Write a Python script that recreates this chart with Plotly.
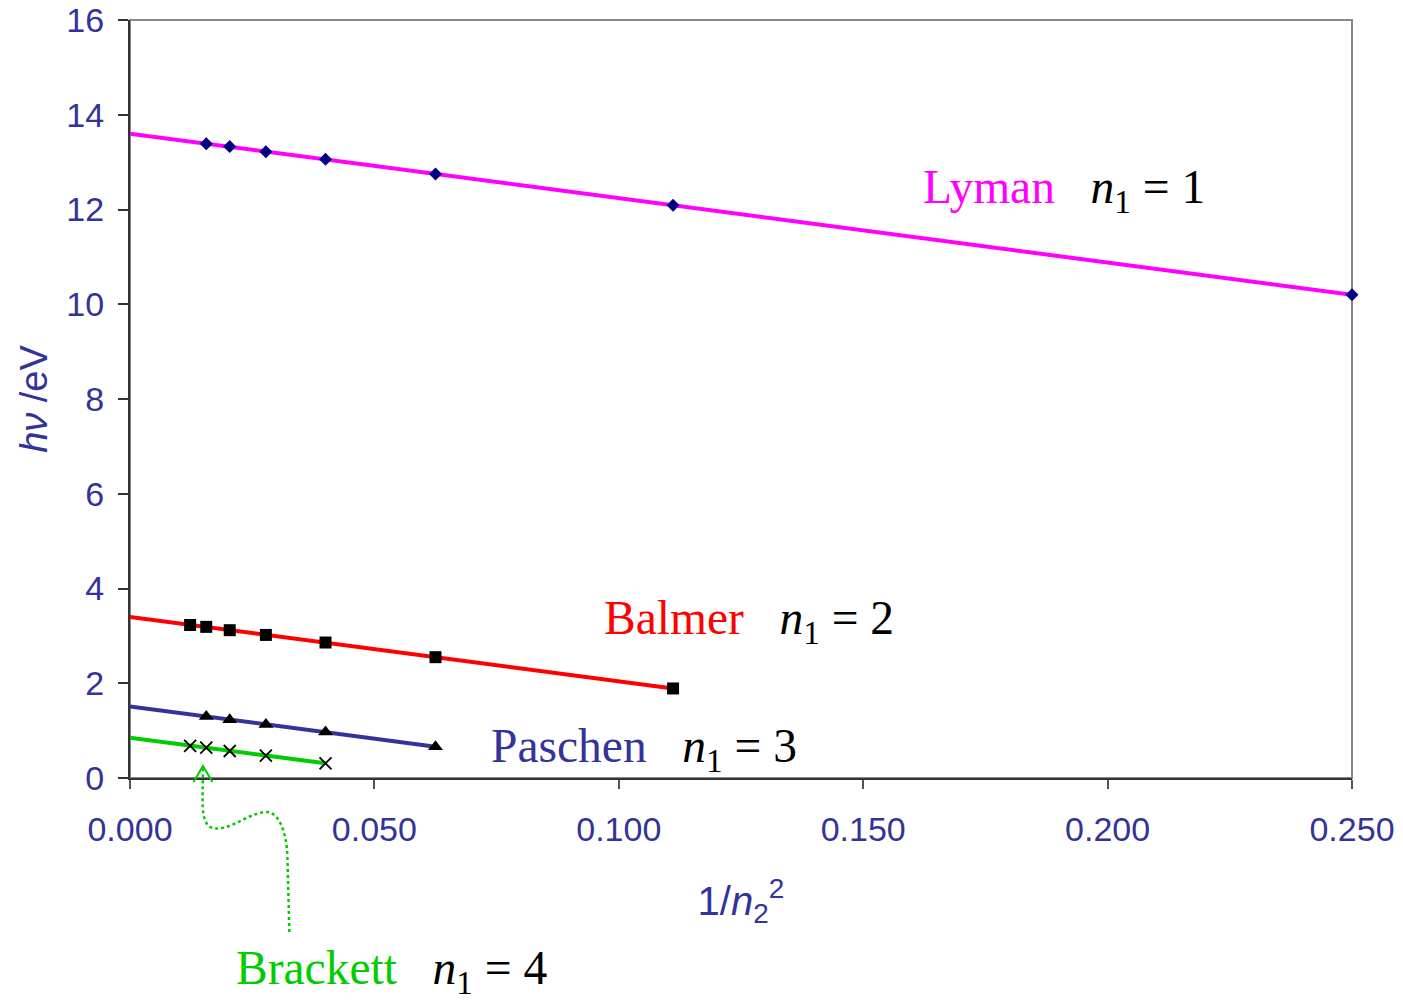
import plotly.graph_objects as go

# ---- data ----
lyman_x = [0.2500, 0.1111, 0.0625, 0.0400, 0.0278, 0.0204, 0.0156]
lyman_y = [10.20, 12.09, 12.75, 13.06, 13.22, 13.33, 13.39]
lyman_line_x = [0.0, 0.25]
lyman_line_y = [13.60, 10.20]

balmer_x = [0.1111, 0.0625, 0.0400, 0.0278, 0.0204, 0.0156, 0.0123]
balmer_y = [1.89, 2.55, 2.86, 3.02, 3.12, 3.19, 3.23]
balmer_line_x = [0.0, 0.1111]
balmer_line_y = [3.40, 1.89]

paschen_x = [0.0625, 0.0400, 0.0278, 0.0204, 0.0156]
paschen_y = [0.66, 0.97, 1.13, 1.23, 1.30]
paschen_line_x = [0.0, 0.0625]
paschen_line_y = [1.51, 0.66]

brackett_x = [0.0400, 0.0278, 0.0204, 0.0156, 0.0123]
brackett_y = [0.31, 0.47, 0.57, 0.64, 0.68]
brackett_line_x = [0.0, 0.0400]
brackett_line_y = [0.85, 0.31]

x_ticks = [0.0, 0.05, 0.10, 0.15, 0.20, 0.25]
y_ticks = [0, 2, 4, 6, 8, 10, 12, 14, 16]

AXIS_BLUE = "#333399"
SERIF = "Liberation Serif, Times New Roman, serif"
SANS = "Liberation Sans, Arial, sans-serif"

# body margin is removed by post_script, so the figure fills the window exactly
W, H = 1403, 1000
ML, MT, MR, MB = 130, 20, 51, 222

fig = go.Figure()

def add_series(lx, ly, color, px, py, symbol, mcolor, msize, mline=None):
    fig.add_trace(go.Scatter(x=lx, y=ly, mode="lines",
                             line=dict(color=color, width=4), showlegend=False,
                             hoverinfo="skip"))
    m = dict(symbol=symbol, color=mcolor, size=msize)
    if mline:
        m["line"] = mline
    fig.add_trace(go.Scatter(x=px, y=py, mode="markers", marker=m,
                             showlegend=False, cliponaxis=False))

add_series(lyman_line_x, lyman_line_y, "#FF00FF", lyman_x, lyman_y,
           "diamond", "#000080", 10)
add_series(balmer_line_x, balmer_line_y, "#FF0000", balmer_x, balmer_y,
           "square", "#000000", 12)
add_series(paschen_line_x, paschen_line_y, "#333399", paschen_x, paschen_y,
           "triangle-up", "#000000", 13)
add_series(brackett_line_x, brackett_line_y, "#00CC00", brackett_x, brackett_y,
           "x-thin", "#000000", 12, dict(color="#000000", width=1.8))

# ---- labels ----
LBL = 47.5
SP = "&nbsp;" * 3

def label(x, y, name, color, n1, yref="y"):
    txt = ('<span style="color:%s">%s</span>%s<i>n</i><sub>1</sub> = %d'
           % (color, name, SP, n1))
    fig.add_annotation(x=x, y=y, xref="x", yref=yref, text=txt, showarrow=False,
                       xanchor="left", yanchor="middle",
                       font=dict(family=SERIF, size=LBL, color="#000000"))

def py2data(py):
    return (778 - py) / 758.0 * 16

label(0.1618, py2data(190), "Lyman", "#FF00FF", 1)
label(0.0966, py2data(621), "Balmer", "#FF0000", 2)
label(0.0734, py2data(749), "Paschen", "#333399", 3)
label(0.0213, (778 - 971) / 758.0, "Brackett", "#00CC00", 4, yref="paper")

# ---- dotted arrow to Brackett points (paper coords) ----
def P(px, py):
    return "%.4f,%.4f" % ((px - 130) / 1222.0, (778 - py) / 758.0)

path = ("M " + P(289.3, 932) + " L " + P(287.5, 860) +
        " C " + P(287, 830) + " " + P(278, 810) + " " + P(264, 812) +
        " C " + P(245, 815) + " " + P(225, 834) + " " + P(210, 827) +
        " C " + P(200, 820) + " " + P(203, 800) + " " + P(203, 768))
fig.add_shape(type="path", path=path, xref="paper", yref="paper",
              line=dict(color="#00CC00", width=2.5, dash="dot"))
head = "M " + P(193.5, 782) + " L " + P(203, 766) + " L " + P(212.5, 782)
fig.add_shape(type="path", path=head, xref="paper", yref="paper",
              line=dict(color="#00CC00", width=2))

# gray frame (top/right)
fig.add_shape(type="rect", x0=0, x1=1, y0=0, y1=1, xref="paper", yref="paper",
              line=dict(color="#888888", width=2), layer="below")

fig.update_layout(
    width=W, height=H,
    margin=dict(l=ML, r=MR, t=MT, b=MB, autoexpand=False),
    plot_bgcolor="white", paper_bgcolor="white",
    showlegend=False,
)
fig.update_xaxes(range=[0, 0.25], tickvals=x_ticks, tickformat=".3f",
                 automargin=False, ticklabeloverflow="allow",
                 showgrid=False, zeroline=False, showline=True,
                 linecolor="#333333", linewidth=2, ticks="outside",
                 ticklen=9, tickcolor="#555555", tickwidth=1.5,
                 ticklabelstandoff=11,
                 tickfont=dict(family=SANS, size=34, color=AXIS_BLUE),
                 title=dict(text="1/<i>n</i><sub>2</sub><sup>2</sup>",
                            font=dict(family=SANS, size=40, color=AXIS_BLUE),
                            standoff=40))
fig.update_yaxes(range=[0, 16], tickvals=y_ticks,
                 automargin=False, ticklabeloverflow="allow",
                 showgrid=False, zeroline=False, showline=True,
                 linecolor="#333333", linewidth=2, ticks="outside",
                 ticklen=10, tickcolor="#333333", tickwidth=1.5,
                 ticklabelstandoff=7,
                 tickfont=dict(family=SANS, size=34, color=AXIS_BLUE),
                 title=dict(text="<i>hν</i> /eV",
                            font=dict(family=SANS, size=38, color=AXIS_BLUE),
                            standoff=7))

fig.write_html("out.html",
               config={"displayModeBar": False},
               post_script="document.body.style.margin='0';"
                           "document.body.style.overflow='hidden';")
